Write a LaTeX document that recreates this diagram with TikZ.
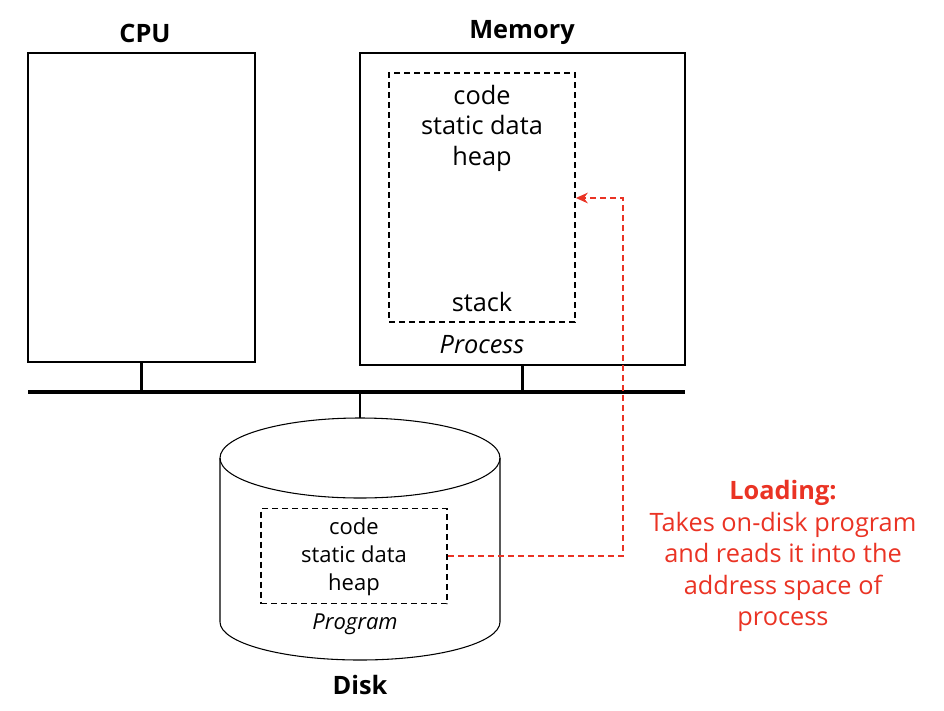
\documentclass[tikz,border=0pt]{standalone}
\usepackage{fontspec}
\setmainfont{Open Sans}
\usetikzlibrary{arrows.meta}

\definecolor{loadred}{RGB}{234,51,36}

\tikzset{
  unit/.style={draw, line width=1.5pt, inner sep=0pt},
  segment/.style={draw, dash pattern=on 4.5pt off 3pt, line width=1.3pt, inner sep=0pt},
  title/.style={font=\fontsize{19}{22}\selectfont\bfseries},
  body/.style={align=center, inner sep=0.75pt, font=\fontsize{19}{22.9}\selectfont},
  small/.style={align=center, inner sep=0.75pt, font=\fontsize{16.5}{21}\selectfont},
  loadpath/.style={draw=loadred, dash pattern=on 4.5pt off 3pt, line width=1.3pt}
}

\begin{document}
\begin{tikzpicture}[x=0.75pt,y=0.75pt,yscale=-1,xscale=1]
\useasboundingbox (0,0) rectangle (944,710);

% CPU and memory
\node[unit, minimum width=170.25pt, minimum height=231.75pt] (cpu) at (141.5,207.5) {};
\node[title] (cpulabel) at (145,33) {CPU};
\node[unit, minimum width=243.75pt, minimum height=234pt] (mem) at (522.5,209) {};
\node[title] (memlabel) at (522,33) {Memory};

% process in memory
\node[segment, minimum width=139.5pt, minimum height=186.75pt] (proc) at (482,197.5) {};
\node[body] (proctext) at (482,128) {code\\static data\\heap};
\node[body] (stack) at (482,302) {stack};
\node[body, font=\fontsize{19}{22}\selectfont\itshape] (proclabel) at (482,345) {Process};

% bus
\coordinate (busL) at (28,392);
\coordinate (busR) at (685,392);
\draw[line width=2.4pt] (busL) -- (busR);
\draw[line width=1.8pt] (cpu.south) -- (cpu.south |- busL);
\draw[line width=1.8pt] (mem.south) -- (mem.south |- busL);
\coordinate (disktop) at (360,418);
\draw[line width=1.8pt] (disktop |- busL) -- (disktop);

% disk
\draw[line width=0.8pt] (360,458) ellipse [x radius=140, y radius=40];
\draw[line width=0.8pt] (220,458) -- (220,622) arc [start angle=180, end angle=0, x radius=140, y radius=38] -- (500,458);
\node[title] (disklabel) at (360,685) {Disk};

% program on disk
\node[segment, minimum width=139.5pt, minimum height=71.25pt] (prog) at (354,556) {};
\node[small] (progtext) at (354,557) {code\\static data\\heap};
\node[small, font=\fontsize{16.5}{18}\selectfont\itshape] (proglabel) at (355,624) {Program};

% loading
\coordinate (bend) at (623,198);
\draw[loadpath, -{Stealth[length=9pt, width=8pt, inset=3pt]}] (prog.east) -| (bend) -- (proc.east |- bend);
\node[align=center, text=loadred, font=\fontsize{19}{23.6}\selectfont] (loading) at (783,556)
  {\textbf{Loading:}\\Takes on-disk program\\and reads it into the\\address space of\\process};

\end{tikzpicture}
\end{document}
